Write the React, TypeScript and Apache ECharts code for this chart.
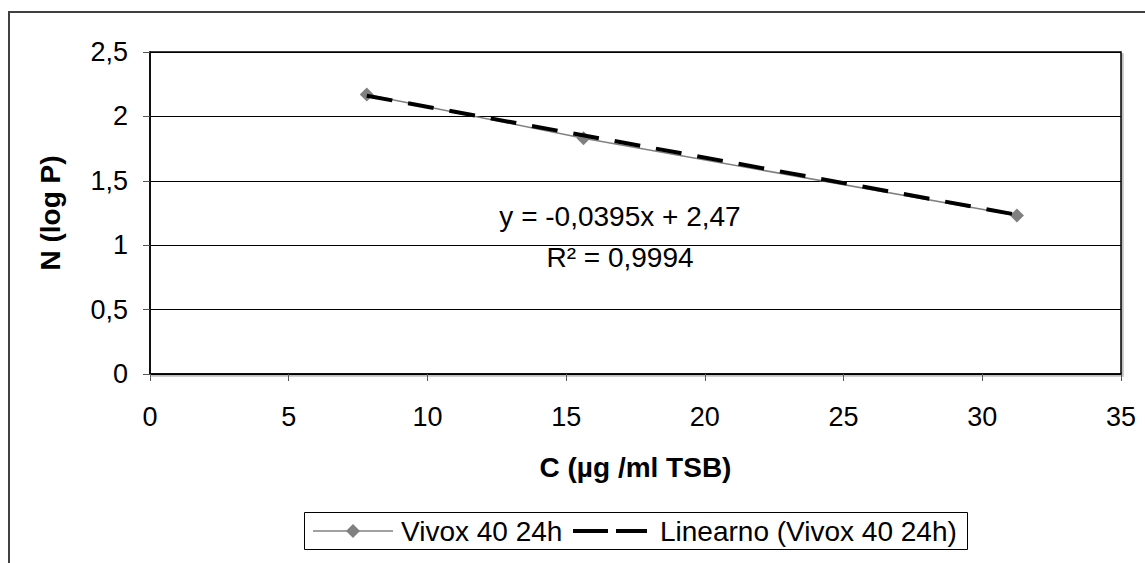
import React, { useEffect, useRef } from "react";
import * as echarts from "echarts";

const seriesName = "Vivox 40 24h";
const trendName = "Linearno (Vivox 40 24h)";
const concX = [7.8125, 15.625, 31.25];
const logP = [2.17, 1.83, 1.23];
const trendX = [7.8125, 31.25];
const trendY = [2.161, 1.236];
const eqLine1 = "y = -0,0395x + 2,47";
const eqLine2 = "R² = 0,9994";
const xTitle = "C (µg /ml TSB)";
const yTitle = "N (log P)";

const FONT = "'Liberation Sans', Arial, Helvetica, sans-serif";

export default function App() {
  const ref = useRef<HTMLDivElement>(null);
  useEffect(() => {
    document.body.style.margin = "0";
    const chart = echarts.init(ref.current!, null, { renderer: "svg" });
    const legendY = 531;
    const option: any = {
      animation: false,
      backgroundColor: "#fff",
      textStyle: { fontFamily: FONT },
      grid: {
        left: 150,
        top: 52,
        width: 971,
        height: 322,
        show: true,
        borderColor: "#000",
        borderWidth: 1.5,
        backgroundColor: "#fff",
        shadowColor: "rgba(0,0,0,0.25)",
        shadowOffsetX: 2,
        shadowOffsetY: 2,
        shadowBlur: 1,
      },
      xAxis: {
        type: "value",
        min: 0,
        max: 35,
        interval: 5,
        name: xTitle,
        nameLocation: "middle",
        nameGap: 79,
        nameTextStyle: { fontSize: 28, fontWeight: "bold", color: "#000", fontFamily: FONT },
        axisLine: { lineStyle: { color: "#000", width: 1.5 } },
        axisTick: { show: true, inside: false, length: 7, lineStyle: { color: "#555" } },
        axisLabel: { fontSize: 27, color: "#000", margin: 29, fontFamily: FONT },
        splitLine: { show: false },
      },
      yAxis: {
        type: "value",
        min: 0,
        max: 2.5,
        interval: 0.5,
        name: yTitle,
        nameLocation: "middle",
        nameGap: 86,
        nameTextStyle: { fontSize: 28, fontWeight: "bold", color: "#000", fontFamily: FONT },
        axisLine: { show: true, lineStyle: { color: "#000", width: 1.5 } },
        axisTick: { show: true, inside: false, length: 7, lineStyle: { color: "#555" } },
        axisLabel: {
          fontSize: 27,
          color: "#000",
          margin: 22,
          fontFamily: FONT,
          formatter: (v: number) => String(v).replace(".", ","),
        },
        splitLine: { show: true, lineStyle: { color: "#000", width: 1 } },
      },
      legend: { show: false },
      graphic: [
        {
          type: "rect",
          silent: true,
          shape: { x: 9, y: 12, width: 1300, height: 700 },
          style: { fill: "none", stroke: "#404040", lineWidth: 2 },
          z: 100,
        },
        {
          type: "text",
          x: 620,
          y: 216,
          style: {
            text: eqLine1,
            fontSize: 28,
            fontFamily: FONT,
            fill: "#000",
            align: "center",
            verticalAlign: "middle",
          },
          z: 50,
        },
        {
          type: "text",
          x: 620,
          y: 257,
          style: {
            text: eqLine2,
            fontSize: 28,
            fontFamily: FONT,
            fill: "#000",
            align: "center",
            verticalAlign: "middle",
          },
          z: 50,
        },
        {
          type: "rect",
          silent: true,
          shape: { x: 304.5, y: 512.5, width: 663, height: 37 },
          style: { fill: "#fff", stroke: "#000", lineWidth: 1 },
          z: 60,
        },
        {
          type: "line",
          silent: true,
          shape: { x1: 313, y1: legendY, x2: 393, y2: legendY },
          style: { stroke: "#808080", lineWidth: 1.5 },
          z: 61,
        },
        {
          type: "polygon",
          silent: true,
          shape: {
            points: [
              [353, legendY - 7],
              [360, legendY],
              [353, legendY + 7],
              [346, legendY],
            ],
          },
          style: { fill: "#808080" },
          z: 62,
        },
        {
          type: "text",
          x: 401,
          y: legendY,
          style: {
            text: seriesName,
            fontSize: 28,
            fontFamily: FONT,
            fill: "#000",
            align: "left",
            verticalAlign: "middle",
          },
          z: 61,
        },
        {
          type: "line",
          silent: true,
          shape: { x1: 573, y1: legendY, x2: 647, y2: legendY },
          style: { stroke: "#000", lineWidth: 4, lineDash: [35, 8] },
          z: 61,
        },
        {
          type: "text",
          x: 660,
          y: legendY,
          style: {
            text: trendName,
            fontSize: 28,
            fontFamily: FONT,
            fill: "#000",
            align: "left",
            verticalAlign: "middle",
          },
          z: 61,
        },
      ],
      series: [
        {
          name: seriesName,
          type: "line",
          data: concX.map((x, i) => [x, logP[i]]),
          symbol: "diamond",
          symbolSize: 14,
          itemStyle: { color: "#808080" },
          lineStyle: { color: "#808080", width: 1.5 },
          z: 2,
        },
        {
          name: trendName,
          type: "line",
          data: trendX.map((x, i) => [x, trendY[i]]),
          symbol: "none",
          showSymbol: false,
          itemStyle: { color: "#000" },
          lineStyle: { color: "#000", width: 4, type: [26, 16] },
          z: 3,
        },
      ],
    };
    chart.setOption(option);
    return () => chart.dispose();
  }, []);
  return <div ref={ref} style={{ width: 1145, height: 563 }} />;
}
